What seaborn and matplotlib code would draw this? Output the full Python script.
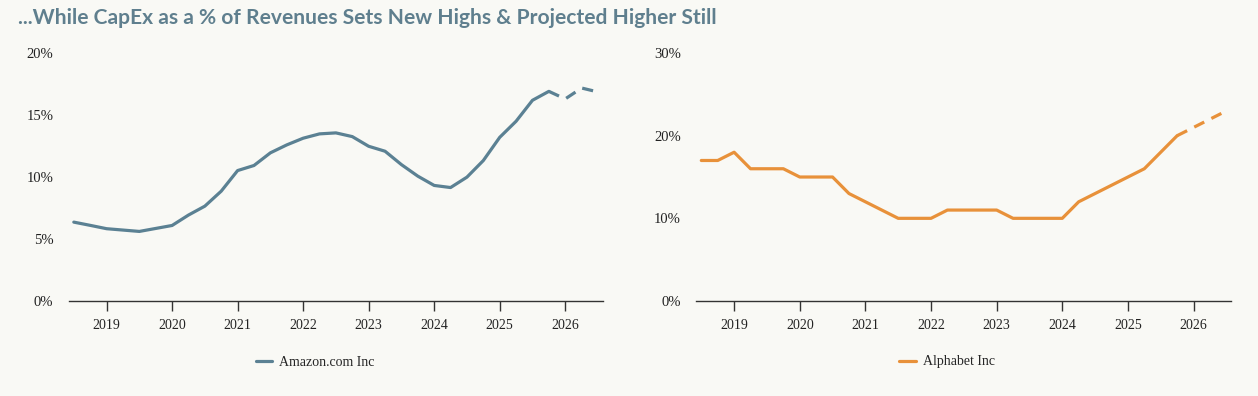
import pandas as pd
import matplotlib.pyplot as plt
import seaborn as sns

# quarterly points, first one is mid-2018
quarters = [2018.5 + 0.25 * i for i in range(33)]

amazon = [6.36, 6.1, 5.83, 5.72, 5.61, 5.85, 6.09, 6.93, 7.65, 8.86, 10.52,
          10.93, 11.95, 12.59, 13.13, 13.48, 13.56, 13.26, 12.48, 12.08, 11.0,
          10.07, 9.32, 9.15, 9.99, 11.33, 13.2, 14.5, 16.19, 16.91, 16.3, 17.18, 16.86]

alphabet = [17, 17, 18, 16, 16, 16, 15, 15, 15, 13, 12, 11, 10, 10, 10, 11, 11,
            11, 11, 10, 10, 10, 10, 12, 13, 14, 15, 16, 18, 20, 21, 22, 23]

# index of the first projected quarter (2025.75 is shared by both pieces)
proj_start = 29

year_ticks = [2019, 2020, 2021, 2022, 2023, 2024, 2025, 2026]

bg = '#f9f9f5'
title_color = '#5f7f8e'
amazon_color = '#5b8193'
alphabet_color = '#e8913a'

sns.set_theme(style='white')
plt.rcParams['font.family'] = ['Liberation Serif', 'DejaVu Serif']

fig = plt.figure(figsize=(12.58, 3.96), dpi=100, facecolor=bg)

panels = [
    (amazon, 'Amazon.com Inc', amazon_color, [0.0545, 0.24, 0.4245, 0.626], 20, [0, 5, 10, 15, 20], 315),
    (alphabet, 'Alphabet Inc', alphabet_color, [0.5533, 0.24, 0.4252, 0.626], 30, [0, 10, 20, 30], 947),
]

for values, name, color, pos, ymax, yticks, leg_x in panels:
    ax = fig.add_axes(pos)
    ax.set_facecolor(bg)
    df = pd.DataFrame({'quarter': quarters, 'value': values})
    actual = df.iloc[:proj_start + 1]
    proj = df.iloc[proj_start:]
    sns.lineplot(data=actual, x='quarter', y='value', ax=ax, color=color,
                 linewidth=2.3, label=name)
    sns.lineplot(data=proj, x='quarter', y='value', ax=ax, color=color,
                 linewidth=2.3, linestyle='--')
    ax.lines[1].set_dashes((3.5, 2.5))

    ax.set_xlim(2018.42, 2026.57)
    ax.set_ylim(0, ymax)
    ax.set_xticks(year_ticks)
    ax.set_xticklabels([str(y) for y in year_ticks])
    ax.set_yticks(yticks)
    ax.set_yticklabels([f'{t}%' for t in yticks])
    ax.set_xlabel('')
    ax.set_ylabel('')

    for s in ['top', 'right', 'left']:
        ax.spines[s].set_visible(False)
    ax.spines['bottom'].set_color('#333333')
    ax.spines['bottom'].set_linewidth(1.0)
    ax.tick_params(axis='x', which='major', bottom=True, length=7, width=1,
                   color='#333333', labelsize=10, labelcolor='#222222', pad=6)
    ax.tick_params(axis='y', left=False, labelsize=10.5, labelcolor='#222222', pad=5)
    ax.grid(False)

    ax.legend(loc='center', bbox_to_anchor=(leg_x / 1258, 1 - 362 / 396),
              bbox_transform=fig.transFigure, frameon=False, fontsize=10,
              handlelength=1.2, handletextpad=0.5)

fig.text(18 / 1258, 1 - 18 / 396,
         '...While CapEx as a % of Revenues Sets New Highs & Projected Higher Still',
         family='Lato', fontweight='bold', fontsize=15.1, color=title_color,
         va='center', ha='left')

fig.savefig('out.png', dpi=100, facecolor=bg)
